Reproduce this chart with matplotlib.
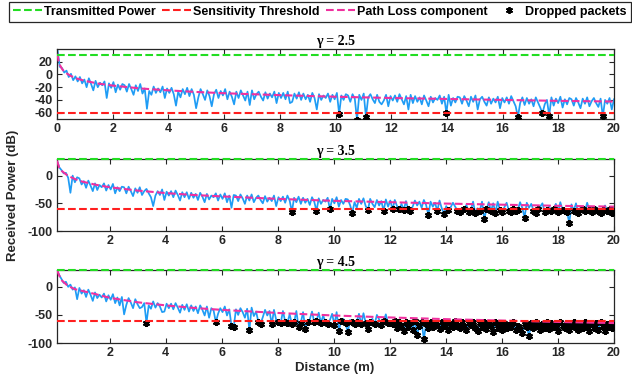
import numpy as np
import matplotlib
matplotlib.use("Agg")
import matplotlib.pyplot as plt
from matplotlib.lines import Line2D

plt.rcParams['font.family'] = ['Liberation Sans', 'DejaVu Sans']
plt.rcParams['axes.unicode_minus'] = False

# ---------------- data ----------------
gammas = ["2.5", "3.5", "4.5"]
tx_power = 30
threshold = -60

dist1 = np.linspace(0.02, 20, 250)
dist23 = np.linspace(0.12, 20, 250)

rx1 = [38, 12, 10, 3, 6, -4, 1, -9, -3, -11,
       -4, -14, -8, -20, -6, -15, -25, -10, -20, -13,
       -17, -11, -37, -14, -21, -12, -28, -16, -24, -15,
       -17, -27, -15, -23, -32, -17, -26, -15, -30, -22,
       -54, -26, -32, -19, -29, -22, -28, -19, -37, -22,
       -29, -21, -31, -49, -27, -36, -23, -31, -21, -34,
       -23, -32, -53, -36, -23, -31, -40, -25, -34, -50,
       -31, -24, -37, -26, -33, -23, -39, -27, -35, -47,
       -27, -37, -25, -33, -41, -27, -48, -25, -39, -31,
       -27, -35, -41, -28, -38, -30, -36, -27, -45, -29,
       -37, -29, -39, -27, -45, -43, -30, -38, -28, -40,
       -30, -39, -32, -43, -29, -37, -55, -31, -40, -33,
       -37, -30, -43, -32, -39, -29, -62, -33, -40, -31,
       -33, -43, -31, -38, -71, -32, -40, -30, -67, -36,
       -31, -39, -45, -32, -43, -47, -41, -32, -50, -34,
       -41, -33, -43, -31, -39, -47, -34, -55, -32, -45,
       -34, -43, -36, -47, -33, -41, -50, -35, -44, -37,
       -40, -33, -46, -35, -61, -32, -49, -37, -44, -35,
       -36, -46, -34, -41, -50, -35, -43, -33, -55, -39,
       -35, -43, -49, -36, -46, -38, -44, -35, -53, -37,
       -44, -36, -46, -34, -42, -50, -67, -45, -36, -48,
       -37, -46, -39, -50, -36, -44, -52, -61, -47, -40,
       -65, -36, -49, -38, -45, -35, -52, -39, -47, -37,
       -39, -49, -37, -44, -53, -38, -46, -36, -50, -42,
       -37, -45, -51, -38, -66, -40, -46, -37, -55, -39]

rx2 = [27, 15, 10, 4, 5, -4, -31, 0, -12, -3,
       -5, -16, -10, -22, -9, -18, -28, -14, -26, -17,
       -21, -14, -27, -17, -25, -15, -32, -21, -28, -20,
       -21, -32, -20, -28, -37, -23, -31, -21, -35, -28,
       -24, -32, -39, -55, -36, -28, -35, -25, -44, -29,
       -36, -28, -39, -27, -35, -45, -30, -39, -30, -42,
       -31, -40, -33, -44, -31, -38, -48, -33, -43, -36,
       -39, -32, -45, -34, -42, -32, -48, -36, -58, -35,
       -36, -46, -34, -41, -51, -36, -45, -34, -48, -40,
       -36, -44, -50, -37, -47, -40, -46, -36, -55, -39,
       -46, -38, -49, -36, -45, -65, -40, -48, -38, -51,
       -40, -49, -42, -53, -39, -47, -64, -41, -51, -44,
       -47, -40, -61, -42, -50, -39, -56, -44, -51, -42,
       -43, -53, -67, -48, -58, -42, -51, -41, -55, -62,
       -42, -51, -57, -44, -54, -46, -64, -43, -56, -45,
       -61, -44, -55, -61, -51, -62, -46, -61, -63, -56,
       -45, -54, -47, -58, -44, -53, -71, -47, -56, -49,
       -64, -45, -59, -69, -55, -62, -57, -49, -56, -63,
       -66, -58, -61, -53, -65, -62, -47, -68, -59, -63,
       -47, -78, -61, -48, -64, -50, -67, -47, -62, -65,
       -57, -49, -63, -66, -61, -64, -62, -48, -58, -76,
       -49, -58, -51, -63, -67, -61, -56, -50, -65, -62,
       -56, -64, -61, -51, -66, -48, -62, -63, -65, -86,
       -52, -63, -50, -67, -58, -61, -64, -49, -62, -66,
       -61, -57, -63, -68, -62, -54, -64, -61, -67, -63]

rx3 = [30, 21, 14, 7, 9, 0, 4, -5, -1, -22,
       -2, -12, -6, -18, -5, -14, -25, -10, -20, -14,
       -19, -12, -26, -15, -23, -13, -29, -19, -33, -18,
       -49, -32, -20, -28, -38, -22, -31, -38, -36, -29,
       -64, -33, -39, -26, -37, -29, -35, -45, -44, -30,
       -38, -30, -40, -29, -37, -46, -32, -41, -31, -44,
       -33, -43, -35, -47, -33, -41, -51, -35, -55, -38,
       -42, -63, -48, -38, -45, -35, -51, -40, -69, -72,
       -40, -50, -38, -45, -55, -39, -77, -37, -52, -44,
       -62, -66, -54, -41, -51, -43, -67, -41, -59, -63,
       -65, -43, -62, -64, -49, -66, -63, -43, -72, -64,
       -45, -75, -62, -58, -44, -63, -61, -46, -64, -51,
       -63, -66, -59, -48, -68, -45, -78, -61, -57, -65,
       -81, -59, -63, -66, -62, -48, -67, -47, -64, -75,
       -62, -57, -66, -50, -58, -68, -61, -49, -65, -64,
       -67, -61, -74, -63, -70, -79, -62, -72, -65, -76,
       -61, -85, -69, -63, -93, -66, -74, -62, -71, -64,
       -68, -75, -62, -70, -64, -77, -66, -72, -61, -69,
       -73, -62, -70, -76, -64, -68, -63, -74, -78, -65,
       -71, -62, -75, -66, -70, -80, -63, -73, -67, -77,
       -64, -74, -68, -71, -62, -76, -69, -75, -83, -66,
       -72, -87, -65, -74, -62, -70, -77, -67, -73, -63,
       -75, -64, -71, -68, -78, -62, -69, -74, -66, -77,
       -70, -63, -73, -76, -65, -74, -62, -69, -78, -67,
       -73, -64, -76, -62, -70, -78, -66, -72, -74, -68]

pl_dist1 = [0.02, 0.05, 0.1, 0.2, 0.3, 0.5, 0.75, 1, 1.5, 2, 3, 4, 5, 6, 8, 10, 12, 14, 16, 18, 20]
pl1 = [32.5, 22.5, 15, 7.5, 3, -2.5, -7, -10, -14.5, -17.5, -22, -25, -27.5, -29.5,
       -32.5, -35, -37, -38.5, -40, -41.5, -42.5]
pl_dist23 = [0.12, 0.2, 0.3, 0.5, 0.75, 1, 1.5, 2, 3, 4, 5, 6, 8, 10, 12, 14, 16, 18, 20]
pl2 = [27, 14, 8, 0, -6, -10.5, -16.5, -21, -27, -31.5, -35, -37.5, -42, -45.5, -48,
       -50.5, -52.5, -54.5, -56]
pl3 = [30, 20, 11, 2, -4, -7, -13, -19.5, -27.5, -33, -37.5, -41, -46.5, -51, -54.5,
       -57.5, -60, -62.5, -64.5]

# ---------------- styling ----------------
c_blue = '#1f9cf5'
c_pink = '#f0309f'
c_green = '#22dd22'
c_red = '#ff1f1f'
c_axis = '#262626'
asterisk = (6, 2, 0)

W, H = 632, 381
fig = plt.figure(figsize=(W / 100, H / 100), dpi=100)

def box(l, t, r, b):
    return [l / W, 1 - b / H, (r - l) / W, (b - t) / H]

panels = [
    dict(rect=box(57, 49, 614, 119), x=dist1, rx=rx1, pd=pl_dist1, pl=pl1,
         xlim=(0, 20), ylim=(-70, 40), yticks=[-60, -40, -20, 0, 20],
         xticks=list(range(0, 21, 2))),
    dict(rect=box(57, 159, 614, 231), x=dist23, rx=rx2, pd=pl_dist23, pl=pl2,
         xlim=(0.12, 20), ylim=(-100, 30), yticks=[-100, -50, 0],
         xticks=list(range(2, 21, 2))),
    dict(rect=box(57, 270, 614, 343), x=dist23, rx=rx3, pd=pl_dist23, pl=pl3,
         xlim=(0.12, 20), ylim=(-100, 30), yticks=[-100, -50, 0],
         xticks=list(range(2, 21, 2))),
]

for g, p in zip(gammas, panels):
    ax = fig.add_axes(p['rect'])
    x = np.asarray(p['x'])
    rx = np.asarray(p['rx'], dtype=float)
    ax.plot(x, rx, color=c_blue, lw=1.25, zorder=2)
    drop = rx < threshold
    ax.plot(x[drop], rx[drop], ls='none', marker=asterisk, ms=5, mew=1.5,
            color='black', zorder=3)
    ax.plot(p['pd'], p['pl'], ls='--', color=c_pink, lw=1.5, zorder=4)
    ax.axhline(threshold, ls='--', color=c_red, lw=1.5, zorder=4)
    ax.axhline(tx_power, ls='--', color=c_green, lw=1.5, zorder=5, clip_on=False)
    ax.set_xlim(*p['xlim'])
    ax.set_ylim(*p['ylim'])
    ax.set_xticks(p['xticks'])
    ax.set_yticks(p['yticks'])
    ax.tick_params(direction='in', length=3.5, width=0.8, top=True, right=True,
                   labelsize=9, colors=c_axis, pad=3)
    for lab in ax.get_xticklabels() + ax.get_yticklabels():
        lab.set_fontweight('bold')
    for s in ax.spines.values():
        s.set_color(c_axis)
        s.set_linewidth(0.9)
    ax.set_title('γ = ' + g, fontsize=10, fontweight='bold', family='Liberation Serif',
                 pad=3)

leg_handles = [
    Line2D([], [], ls='--', color=c_green, lw=1.5),
    Line2D([], [], ls='--', color=c_red, lw=1.5),
    Line2D([], [], ls='--', color=c_pink, lw=1.5),
    Line2D([], [], ls='none', marker=asterisk, ms=5, mew=1.3, color='black'),
]
leg = fig.legend(leg_handles, ['Transmitted Power', 'Sensitivity Threshold',
                               'Path Loss component', 'Dropped packets'],
                 loc='upper left', bbox_to_anchor=(9 / W, 1 - 2 / H), ncol=4,
                 prop=dict(weight='bold', size=9), handlelength=2.3,
                 handletextpad=0.2, columnspacing=0.5, borderpad=0.3,
                 borderaxespad=0, fancybox=False, edgecolor=c_axis, framealpha=1)
leg.get_frame().set_linewidth(0.9)

fig.text(13 / W, 1 - 195 / H, 'Received Power (dB)', rotation=90, ha='center',
         va='center', fontsize=9.5, fontweight='bold', color=c_axis)
fig.text(335 / W, 1 - 368 / H, 'Distance (m)', ha='center', va='center',
         fontsize=9.5, fontweight='bold', color=c_axis)

fig.savefig('out.png', dpi=100)
